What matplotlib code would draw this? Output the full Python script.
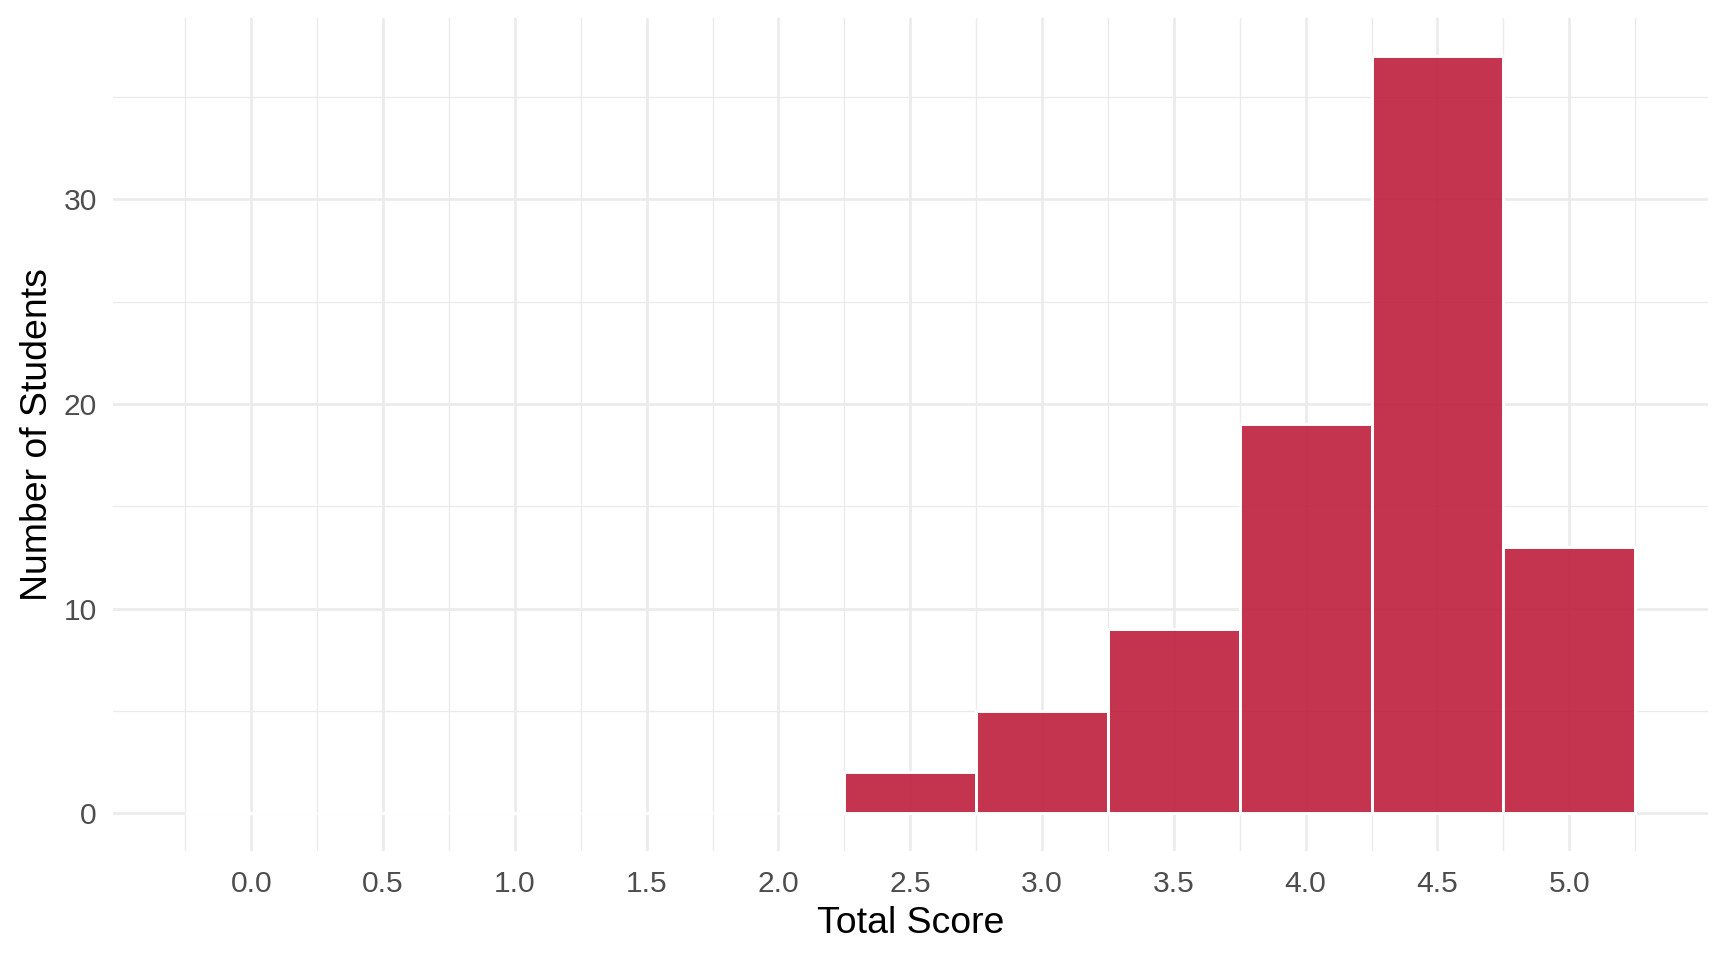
import matplotlib.pyplot as plt
import numpy as np

# histogram bins (centre of each 0.5-wide bin) and counts
bin_centers = [0.0, 0.5, 1.0, 1.5, 2.0, 2.5, 3.0, 3.5, 4.0, 4.5, 5.0]
counts = [0, 0, 0, 0, 0, 2, 5, 9, 19, 37, 13]
bin_width = 0.5

x_ticks = [0.0, 0.5, 1.0, 1.5, 2.0, 2.5, 3.0, 3.5, 4.0, 4.5, 5.0]
y_ticks = [0, 10, 20, 30]

plt.rcParams['font.family'] = ['Liberation Sans', 'DejaVu Sans']

fig = plt.figure(figsize=(18, 10), dpi=96)
ax = fig.add_axes([0.0653, 0.1135, 0.9229, 0.8675])

# bars: translucent red fill, white outline (zero bins too, like ggplot)
ax.bar(bin_centers, counts, width=bin_width,
       facecolor=(0.745, 0.118, 0.235, 0.9), edgecolor='white',
       linewidth=2.2, zorder=3)

# ggplot-style expanded limits
lo = bin_centers[0] - bin_width / 2
hi = bin_centers[-1] + bin_width / 2
pad = 0.05 * (hi - lo)
ax.set_xlim(lo - pad, hi + pad)
ax.set_ylim(-0.05 * max(counts), max(counts) * 1.05)

ax.set_xticks(x_ticks)
ax.set_xticklabels([f'{v:.1f}' for v in x_ticks])
ax.set_yticks(y_ticks)
ax.set_xticks(list(np.array(x_ticks) - 0.25) + [x_ticks[-1] + 0.25], minor=True)
ax.set_yticks([5, 15, 25, 35], minor=True)

# theme_minimal look
for s in ax.spines.values():
    s.set_visible(False)
ax.grid(True, which='major', color='#EBEBEB', linewidth=2.0, zorder=0)
ax.grid(True, which='minor', color='#EBEBEB', linewidth=1.0, zorder=0)
ax.set_axisbelow(True)
ax.tick_params(which='both', length=0)
ax.tick_params(axis='x', labelsize=22.5, labelcolor='#4D4D4D', pad=14)
ax.tick_params(axis='y', labelsize=22.5, labelcolor='#4D4D4D', pad=12)

ax.set_xlabel('Total Score', fontsize=28, labelpad=6)
ax.set_ylabel('Number of Students', fontsize=28, labelpad=6)

fig.savefig('out.png', dpi=96)
